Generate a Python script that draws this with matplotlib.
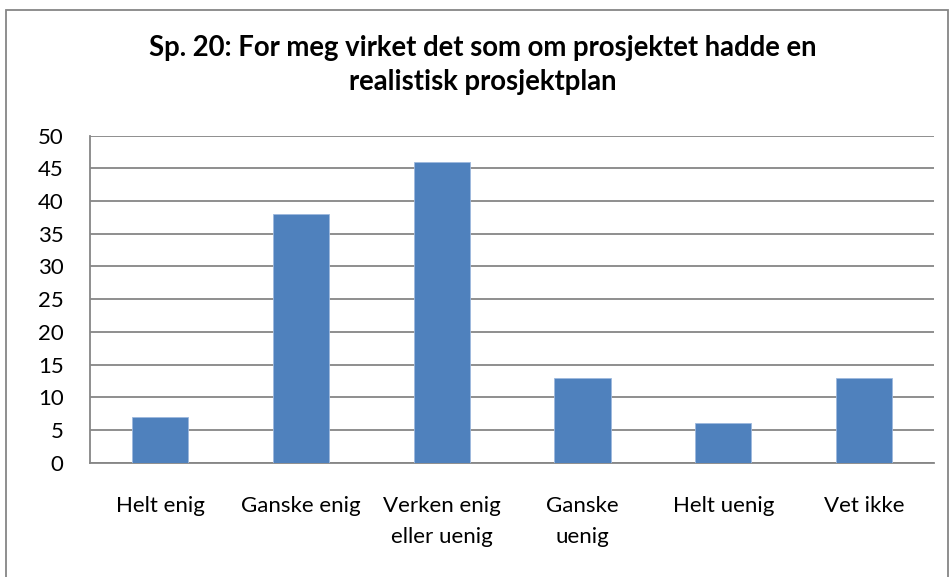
import matplotlib.pyplot as plt
from matplotlib.patches import Rectangle

# data
kategorier = ['Helt enig', 'Ganske enig', 'Verken enig\neller uenig', 'Ganske\nuenig', 'Helt uenig', 'Vet ikke']
antall = [7, 38, 46, 13, 6, 13]
y_ticks = [0, 5, 10, 15, 20, 25, 30, 35, 40, 45, 50]

plt.rcParams['font.family'] = ['Lato', 'DejaVu Sans']

fig = plt.figure(figsize=(9.51, 5.77), dpi=100)
ax = fig.add_axes([0.0946, 0.198, 0.888, 0.567])

x = list(range(len(kategorier)))
ax.bar(x, antall, width=0.4, color='#4F81BD', edgecolor='#9DB9DE', linewidth=0.6, zorder=3)

ax.set_xlim(-0.5, len(kategorier) - 0.5)
ax.set_ylim(0, 50)
ax.set_yticks(y_ticks)
ax.set_xticks(x)
ax.set_xticklabels(kategorier, fontsize=16, linespacing=1.7)
ax.tick_params(axis='y', labelsize=16, length=0, pad=19)
ax.tick_params(axis='x', length=0, pad=24)
ax.yaxis.grid(True, color='#868686', linewidth=1.3, zorder=0)

for s in ['top', 'right']:
    ax.spines[s].set_visible(False)
ax.spines['left'].set_color('#868686')
ax.spines['bottom'].set_color('#868686')
ax.spines['left'].set_linewidth(1.3)
ax.spines['bottom'].set_linewidth(1.3)

fig.text(0.508, 0.887, 'Sp. 20: For meg virket det som om prosjektet hadde en\nrealistisk prosjektplan',
         ha='center', va='center', fontsize=19.8, fontweight='bold', linespacing=1.4)

# ramme rundt figuren
fig.patches.append(Rectangle((0.006, -0.05), 0.991, 1.033, transform=fig.transFigure,
                             fill=False, edgecolor='#868686', linewidth=1.3))

fig.savefig('out.png', dpi=100)
